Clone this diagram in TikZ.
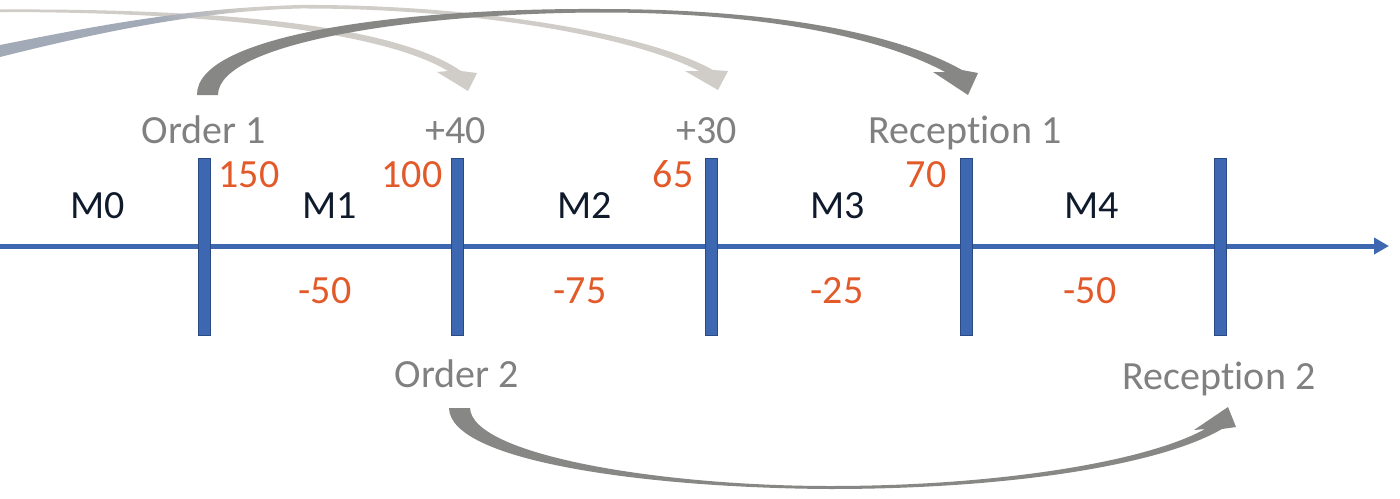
\documentclass[tikz,border=0pt]{standalone}
\usepackage{fontspec}
\setmainfont{Carlito}[Ligatures={NoCommon}]
\usetikzlibrary{arrows.meta}
\definecolor{axblue}{HTML}{3E67B1}
\definecolor{bardark}{HTML}{2A4A85}
\definecolor{txtgray}{HTML}{808080}
\definecolor{numred}{HTML}{E35A2A}
\definecolor{navy}{HTML}{0F1A2C}
\definecolor{darkarr}{HTML}{878886}
\definecolor{lightarr}{HTML}{D0CCC7}
\definecolor{tailarr}{HTML}{A3AAB7}
\pgfdeclarehorizontalshading{tailshade}{100bp}{color(0bp)=(tailarr); color(25bp)=(tailarr); color(36bp)=(tailarr); color(42bp)=(lightarr); color(100bp)=(lightarr)}
\begin{document}
\begin{tikzpicture}[x=1pt,y=-1pt,
  lbl/.style={font=\fontsize{40}{48}\selectfont, inner sep=0pt, anchor=base},
  glbl/.style={lbl, text=txtgray},
  rlbl/.style={lbl, text=numred},
  mlbl/.style={lbl, text=navy},
  barnode/.style={fill=axblue, draw=bardark, line width=0.7pt, minimum width=12pt, minimum height=177pt, inner sep=0pt},
  axisline/.style={draw=axblue, line width=5pt, -{Triangle[length=15pt,width=16pt]}},
  darkshape/.style={fill=darkarr},
  lightshape/.style={fill=lightarr}]
\useasboundingbox (0,0) rectangle (1400,498);

% light arrows (behind)
\fill[lightshape] (0,9.5) .. controls (200,8.5) and (390,22) .. (461,71) -- (477,73) -- (468,91) -- (437,72) -- (448,71) .. controls (380,30) and (200,12) .. (0,12) -- cycle;
\shade[shading=tailshade] (0,45) .. controls (100,25) and (190,8) .. (300,5) .. controls (470,4) and (645,32) .. (713,70) -- (728,71) -- (718,90) -- (685,71) -- (699,71) .. controls (632,36) and (470,8) .. (300,8.5) .. controls (200,11) and (100,32) .. (0,57) -- cycle;

% dark arrows
\fill[darkshape] (197,95) .. controls (196,35) and (400,8) .. (600,9) .. controls (780,9) and (900,35) .. (962,70) -- (978,73) -- (968,95) -- (933,72) -- (945,72) .. controls (890,42) and (780,12.5) .. (600,12.5) .. controls (420,13) and (218,42) .. (218,95) -- cycle;
\fill[darkshape] (449,408) .. controls (450,462) and (650,488) .. (830,489) .. controls (1010,489) and (1160,465) .. (1222,429) -- (1236,427) -- (1228,407) -- (1194,430) -- (1205,429) .. controls (1150,460) and (1005,486) .. (830,486) .. controls (660,486) and (472,455) .. (470,408) -- cycle;

% axis
\coordinate (axL) at (0,246);
\coordinate (axR) at (1389,246);
\draw[axisline] (axL) -- (axR);

% bars
\node[barnode] (b1) at (204,246.5) {};
\node[barnode] (b2) at (457,246.5) {};
\node[barnode] (b3) at (711,246.5) {};
\node[barnode] (b4) at (966,246.5) {};
\node[barnode] (b5) at (1220,246.5) {};

% gray labels
\node[glbl] (o1) at (204,143) {Order 1};
\node[glbl] (p40) at (456,143) {+40};
\node[glbl] (p30) at (707,143) {+30};
\node[glbl] (r1) at (965,143) {Reception 1};
\node[glbl] (o2) at (457,387) {Order 2};
\node[glbl] (r2) at (1219,389) {Reception 2};

% stock numbers
\node[rlbl] (s1) at (249,187) {150};
\node[rlbl] (s2) at (412,187) {100};
\node[rlbl] (s3) at (673,187) {65};
\node[rlbl] (s4) at (926,187) {70};

% months
\node[mlbl] (m0) at (98,218) {M0};
\node[mlbl] (m1) at (330,218) {M1};
\node[mlbl] (m2) at (585,218) {M2};
\node[mlbl] (m3) at (838,218) {M3};
\node[mlbl] (m4) at (1092,218) {M4};

% consumption
\node[rlbl] (c1) at (325,303) {-50};
\node[rlbl] (c2) at (580,303) {-75};
\node[rlbl] (c3) at (837,303) {-25};
\node[rlbl] (c4) at (1090,303) {-50};
\end{tikzpicture}
\end{document}
